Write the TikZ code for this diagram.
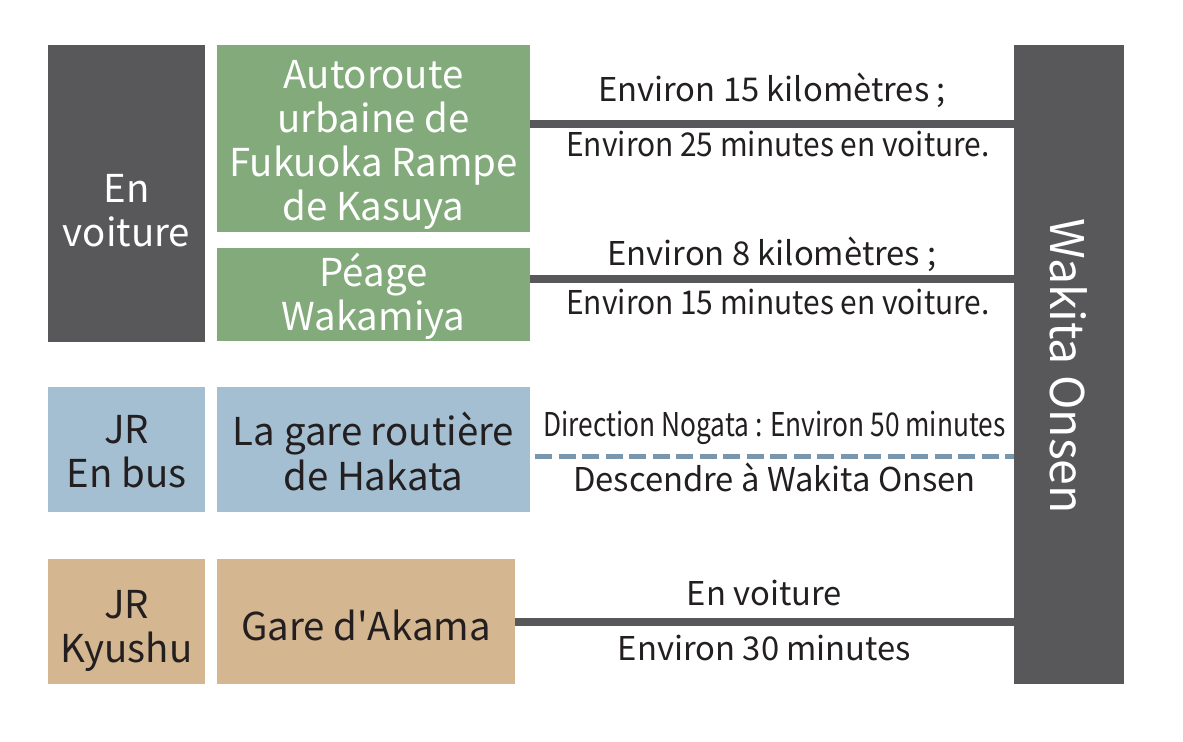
\documentclass[tikz,border=0pt]{standalone}
\usepackage{fontspec}
\setmainfont{Noto Sans CJK JP}
\usepackage{graphicx}
\usepackage{xcolor}
\usepackage{tikz}
\definecolor{darkgrey}{HTML}{58585A}
\definecolor{roadgreen}{HTML}{82AA7A}
\definecolor{busblue}{HTML}{A3BFD1}
\definecolor{traintan}{HTML}{D4B690}
\definecolor{dashblue}{HTML}{7896AE}
\definecolor{ink}{HTML}{231F20}
\newlength\pxu
\setlength\pxu{0.025cm}
\newcommand\narrowtext[2]{\scalebox{#1}[1]{#2}}
\tikzset{%
  every box/.style={
    rectangle,
    inner sep=0pt
  },
  box text/.style={
    align=center,
    inner sep=0pt,
    font=\fontsize{27.3pt}{31.3pt}\selectfont
  },
  dark box/.style 2 args={every box, fill=darkgrey,
    label={[box text, text=white, yshift=#1]center:{#2}}},
  green box/.style 2 args={every box, fill=roadgreen,
    label={[box text, text=white, yshift=#1]center:{#2}}},
  blue box/.style 2 args={every box, fill=busblue,
    label={[box text, text=ink, yshift=#1]center:{#2}}},
  tan box/.style 2 args={every box, fill=traintan,
    label={[box text, text=ink, yshift=#1]center:{#2}}},
  link/.style={draw=darkgrey, line width=8\pxu},
  bus link/.style={draw=dashblue, line width=5.5\pxu, dash pattern=on 17\pxu off 6.5\pxu},
  lbl/.style={midway, anchor=base, text=ink, inner sep=0pt,
    font=\fontsize{23.3pt}{28pt}\selectfont},
}

\begin{document}
\begin{tikzpicture}[x=0.025cm,y=-0.025cm]
  \useasboundingbox (0,0) rectangle (1183,742);

  % left column
  \node (voiture) [minimum width=157\pxu,minimum height=297\pxu,
    dark box={-17\pxu}{En\\voiture}] at (126.5,193.5) {};
  \node (bus) [minimum width=157\pxu,minimum height=125\pxu,
    blue box={-2\pxu}{JR\\En bus}] at (126.5,449.5) {};
  \node (kyushu) [minimum width=157\pxu,minimum height=125\pxu,
    tan box={-9\pxu}{JR\\Kyushu}] at (126.5,621.5) {};

  % departure points
  \node (autoroute) [minimum width=313\pxu,minimum height=187\pxu,
    green box={-6\pxu}{Autoroute\\urbaine de\\Fukuoka Rampe\\de Kasuya}] at (373.5,138.5) {};
  \node (peage) [minimum width=313\pxu,minimum height=93\pxu,
    green box={-2\pxu}{Péage\\Wakamiya}] at (373.5,294.5) {};
  \node (hakata) [minimum width=313\pxu,minimum height=125\pxu,
    blue box={-2\pxu}{La gare routière\\de Hakata}] at (373.5,449.5) {};
  \node (akama) [minimum width=298\pxu,minimum height=125\pxu,
    tan box={-4\pxu}{Gare d\textquotesingle Akama}] at (366,621.5) {};

  % destination
  \node (onsen) [minimum width=110\pxu,minimum height=639\pxu,
    dark box={-1.5\pxu}{\fontsize{33pt}{38pt}\selectfont\rotatebox{-90}{Wakita Onsen}}] at (1069,364.5) {};

  \draw [link] ([yshift=15\pxu]autoroute.east) -- ([yshift=15\pxu]autoroute.east -| onsen.west)
    node [lbl,yshift=22\pxu] {Environ 15 kilomètres ;}
    node [lbl,yshift=-33\pxu,xshift=6\pxu] {\narrowtext{0.913}{Environ 25 minutes en voiture.}};
  \draw [link] ([yshift=15.5\pxu]peage.east) -- ([yshift=15.5\pxu]peage.east -| onsen.west)
    node [lbl,yshift=14\pxu] {Environ 8 kilomètres ;}
    node [lbl,yshift=-35\pxu,xshift=6\pxu] {\narrowtext{0.913}{Environ 15 minutes en voiture.}};
  \draw [bus link] ([xshift=5\pxu,yshift=-7\pxu]hakata.east) -- ([yshift=-7\pxu]hakata.east -| onsen.west)
    node [lbl,yshift=20\pxu] {\narrowtext{0.803}{Direction Nogata : Environ 50 minutes}}
    node [lbl,yshift=-35\pxu] {Descendre à Wakita Onsen};
  \draw [link] (akama.east) -- (akama.east -| onsen.west)
    node [lbl,yshift=16\pxu] {En voiture}
    node [lbl,yshift=-39\pxu] {Environ 30 minutes};
\end{tikzpicture}
\end{document}
